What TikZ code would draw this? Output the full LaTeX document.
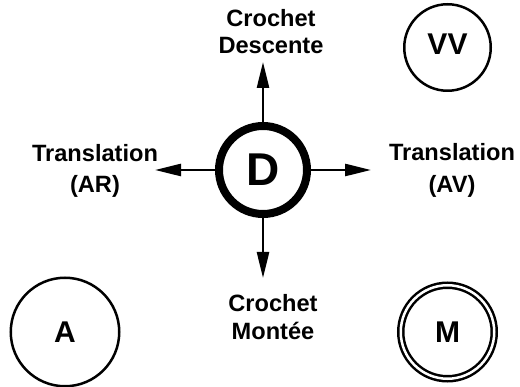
\documentclass[tikz,border=0pt]{standalone}
\usepackage{fontspec}
\setmainfont{Liberation Sans}
\usetikzlibrary{arrows.meta}
\begin{document}
\begin{tikzpicture}[x=1pt,y=-1pt,
  every node/.style={inner sep=0pt, font=\bfseries},
  hub/.style={circle, draw, line width=8pt, minimum size=88pt,
    font=\bfseries\fontsize{46}{46}\selectfont},
  mode/.style={circle, draw, line width=2.5pt,
    font=\bfseries\fontsize{30}{30}\selectfont},
  caption/.style={align=center},
  move/.style={line width=2.5pt, -{Triangle[length=26pt,width=12pt]}}
]
\useasboundingbox (0,0) rectangle (520,387);

% central control
\node[hub] (D) at (263,170) {D};

% mode indicators
\node[mode, minimum size=86.5pt, text depth=6pt] (VV) at (447.5,47.5) {VV};
\node[mode, minimum size=108.5pt] (A) at (65,332) {A};
\node[mode, minimum size=93.5pt, double, double distance=2.5pt] (M) at (447.5,332) {M};

% movement captions
\node[caption, font=\bfseries\fontsize{23.6}{27}\selectfont] (up) at (271,32) {Crochet\\Descente};
\node[caption, font=\bfseries\fontsize{23.6}{27.6}\selectfont] (down) at (273,317) {Crochet\\Montée};
\node[caption, font=\bfseries\fontsize{23.6}{31.5}\selectfont] (left) at (95,171) {Translation\\(AR)};
\node[caption, font=\bfseries\fontsize{23.6}{31.5}\selectfont] (right) at (452,170.5) {Translation\\(AV)};

% arrow tips
\coordinate (tipU) at (263,62);
\coordinate (tipD) at (263,278);
\coordinate (tipL) at (155,170);
\coordinate (tipR) at (371,170);

\draw[move] (D.north) -- (tipU);
\draw[move] (D.south) -- (tipD);
\draw[move] (D.west) -- (tipL);
\draw[move] (D.east) -- (tipR);
\end{tikzpicture}
\end{document}
